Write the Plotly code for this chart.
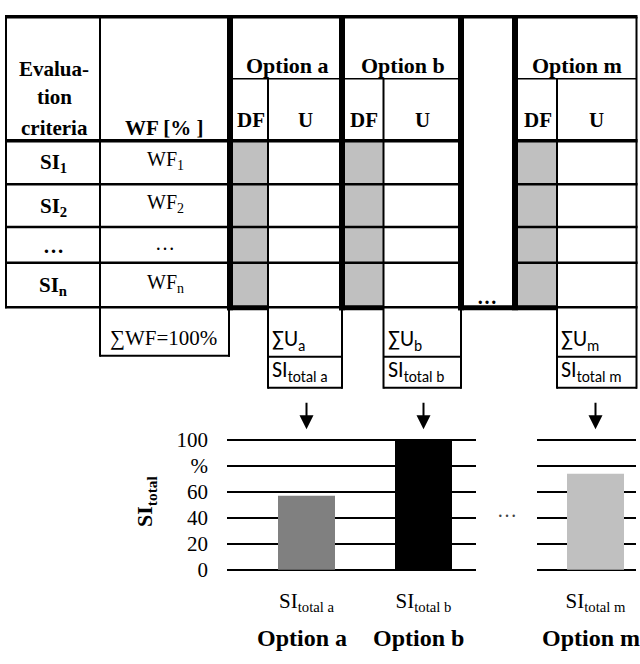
import plotly.graph_objects as go

# ---------------- data ----------------
options = ["Option a", "Option b", "Option m"]
si_total = [57, 100, 74]
bar_colors = ["#808080", "#000000", "#c0c0c0"]
x_tick_labels = ["SI<sub>total a</sub>", "SI<sub>total b</sub>", "SI<sub>total m</sub>"]
y_tick_vals = [0, 20, 40, 60, 80, 100]
y_tick_text = ["0", "20", "40", "60", "%", "100"]
criteria = ["SI<sub>1</sub>", "SI<sub>2</sub>", "…", "SI<sub>n</sub>"]
weights = ["WF<sub>1</sub>", "WF<sub>2</sub>", "…", "WF<sub>n</sub>"]
sum_u = ["∑U<sub>a</sub>", "∑U<sub>b</sub>", "∑U<sub>m</sub>"]
si_box = ["SI<sub>total a</sub>", "SI<sub>total b</sub>", "SI<sub>total m</sub>"]
sub_headers = ["DF", "U"]

# ---------------- geometry (pixels) ----------------
W, H = 640, 664
SERIF = "Liberation Serif, Times New Roman, serif"
SANS = "Carlito, Lato, Liberation Sans, sans-serif"


def px(x):
    return x / W


def py(y):
    return 1 - y / H


shapes = []


def line(x0, y0, x1, y1, w=2, color="black"):
    shapes.append(dict(type="line", xref="paper", yref="paper",
                       x0=px(x0), y0=py(y0), x1=px(x1), y1=py(y1),
                       line=dict(color=color, width=w), layer="above"))


def rect(x0, y0, x1, y1, fill):
    shapes.append(dict(type="rect", xref="paper", yref="paper",
                       x0=px(x0), y0=py(y0), x1=px(x1), y1=py(y1),
                       fillcolor=fill, line=dict(width=0), layer="above"))


annotations = []


def text(x, y, s, size=21, bold=False, family=SERIF, xanchor="center", color="black"):
    if bold:
        s = "<b>" + s + "</b>"
    annotations.append(dict(xref="paper", yref="paper", x=px(x), y=py(y), text=s,
                            showarrow=False, xanchor=xanchor, yanchor="middle",
                            font=dict(family=family, size=size, color=color)))


# table column positions
TOP, HSUB, HBOT, BOT = 7, 71, 135, 307
row_lines = [180, 224, 261]
row_edges = [HBOT, 180, 224, 261, BOT]
blocks = [(230, 268, 342), (342, 383.5, 461), (515, 557, 636.5)]  # thick-left, DF/U, right

# gray DF fills
for (l, m, r) in blocks:
    rect(l, HBOT, m, BOT, "#c0c0c0")

# horizontal lines
line(5, TOP, 637.5, TOP, 3.5)
for seg in [(230, 461), (515, 637)]:
    line(seg[0], HSUB, seg[1], HSUB, 1.5)
for seg in [(5, 461), (515, 637.5)]:
    line(seg[0], HBOT, seg[1], HBOT, 3.5)
    for yy in row_lines:
        line(seg[0], yy, seg[1], yy, 2.5)
    line(seg[0], BOT, seg[1], BOT, 2.5)
# thick bottoms under DF columns and dots column
line(227, BOT + 0.5, 268, BOT + 0.5, 5)
line(339, BOT + 0.5, 384, BOT + 0.5, 5)
line(458, BOT + 0.5, 558, BOT + 0.5, 5)

# vertical lines
line(6, TOP, 6, BOT + 1, 2)
line(100, TOP, 100, 358, 2)
for (l, m, r) in blocks:
    line(l, TOP - 1.5, l, BOT + 3, 6)
    line(m, HSUB, m, 391, 2)
line(461, TOP - 1.5, 461, BOT + 3, 6)
line(342, BOT, 342, 391, 2)
line(461, BOT, 461, 391, 2)
line(636.5, TOP, 636.5, 391, 2)

# sum WF box
line(100, 357, 230, 357, 2)
line(229, BOT, 229, 358, 2)
# sum U boxes
for (l, m, r) in blocks:
    line(m, 358, r + 0.5, 358, 2)
    line(m, 390, r + 0.5, 390, 2)

# header texts
text(54, 61, "Evalua-", bold=True)
text(54, 90, "tion", bold=True)
text(54, 122, "criteria", bold=True)
text(164, 122, "WF [% ]", bold=True)
for i, (l, m, r) in enumerate(blocks):
    text((l + 3 + r) / 2, 57, options[i], size=22, bold=True)
    text((l + 3 + m) / 2, 114, sub_headers[0], size=21, bold=True)
    text((m + r) / 2, 114, sub_headers[1], size=21, bold=True)

# row texts
for i in range(4):
    yc = (row_edges[i] + row_edges[i + 1]) / 2
    text(53, yc + 1, criteria[i], bold=True, size=21)
    text(165, yc - 2, weights[i], size=20)
text(487, 296, "…", bold=True, size=20)

# sums
text(163, 339, "∑WF=100%", size=21)
for i, (l, m, r) in enumerate(blocks):
    text(m + 2, 341, sum_u[i], size=22, family=SANS, xanchor="left")
    text(m + 2, 373, si_box[i], size=22, family=SANS, xanchor="left")

# ---------------- bar chart ----------------
Y0, Y100 = 578, 444
ppu = (Y0 - Y100) / 100.0
yr = [-1, 101]
ydom = [py(Y0 + ppu * 1), py(Y100 - ppu * 1)]

fig = go.Figure()
fig.add_trace(go.Bar(x=options[:2], y=si_total[:2], marker=dict(color=bar_colors[:2], line=dict(width=0)),
                     xaxis="x", yaxis="y", showlegend=False, hoverinfo="skip"))
fig.add_trace(go.Bar(x=options[2:], y=si_total[2:], marker=dict(color=bar_colors[2:], line=dict(width=0)),
                     xaxis="x2", yaxis="y2", showlegend=False, hoverinfo="skip"))

unit = 117.0
axis_common = dict(showgrid=False, zeroline=False, showline=False, ticks="",
                   tickfont=dict(family=SERIF, size=21, color="black"),
                   ticklabelstandoff=15, fixedrange=True)
fig.update_layout(
    xaxis=dict(domain=[px(227), px(476)], anchor="y", type="category",
               range=[-(306.5 - 227) / unit, 1 + (476 - 423.5) / unit],
               tickvals=options[:2], ticktext=x_tick_labels[:2], **axis_common),
    xaxis2=dict(domain=[px(537), px(636)], anchor="y2", type="category",
                range=[-(595.5 - 537) / unit, (636 - 595.5) / unit],
                tickvals=options[2:], ticktext=x_tick_labels[2:], **axis_common),
    yaxis=dict(domain=ydom, anchor="x", range=yr, tickvals=y_tick_vals, ticktext=y_tick_text,
               showgrid=True, gridcolor="black", gridwidth=2, zeroline=True, zerolinecolor="black",
               zerolinewidth=2, showline=False, ticks="", ticklabelstandoff=18,
               tickfont=dict(family=SERIF, size=21, color="black"), fixedrange=True),
    yaxis2=dict(domain=ydom, anchor="x2", range=yr, tickvals=y_tick_vals, showticklabels=False,
                showgrid=True, gridcolor="black", gridwidth=2, zeroline=True, zerolinecolor="black",
                zerolinewidth=2, showline=False, ticks="", fixedrange=True),
    bargap=1 - 57 / unit,
)

# arrows from sum boxes to bars, and bold option labels under the bars
for i, opt in enumerate(options):
    xr = "x" if i < 2 else "x2"
    annotations.append(dict(xref=xr, yref="paper", x=opt, y=py(433), text="", showarrow=True,
                            ax=0, ay=-28, arrowhead=2, arrowsize=1.4, arrowwidth=2,
                            arrowcolor="black"))
    annotations.append(dict(xref=xr, yref="paper", x=opt, y=py(648), text="<b>" + opt + "</b>",
                            showarrow=False, xanchor="center", yanchor="middle", xshift=-5,
                            font=dict(family=SERIF, size=24, color="black")))

# y-axis title and gap dots
annotations.append(dict(xref="paper", yref="paper", x=px(146), y=py(508),
                        text="<b>SI<sub>total</sub></b>", textangle=-90, showarrow=False,
                        xanchor="center", yanchor="middle",
                        font=dict(family=SERIF, size=22, color="black")))
text(507, 516, "…", size=20, color="#444444")

fig.update_layout(
    width=W, height=H, margin=dict(l=0, r=0, t=0, b=0),
    paper_bgcolor="white", plot_bgcolor="white",
    shapes=shapes, annotations=annotations,
)

fig.write_html("out.html", config={"displayModeBar": False},
               post_script="document.body.style.margin='0';document.body.style.overflow='hidden';")
